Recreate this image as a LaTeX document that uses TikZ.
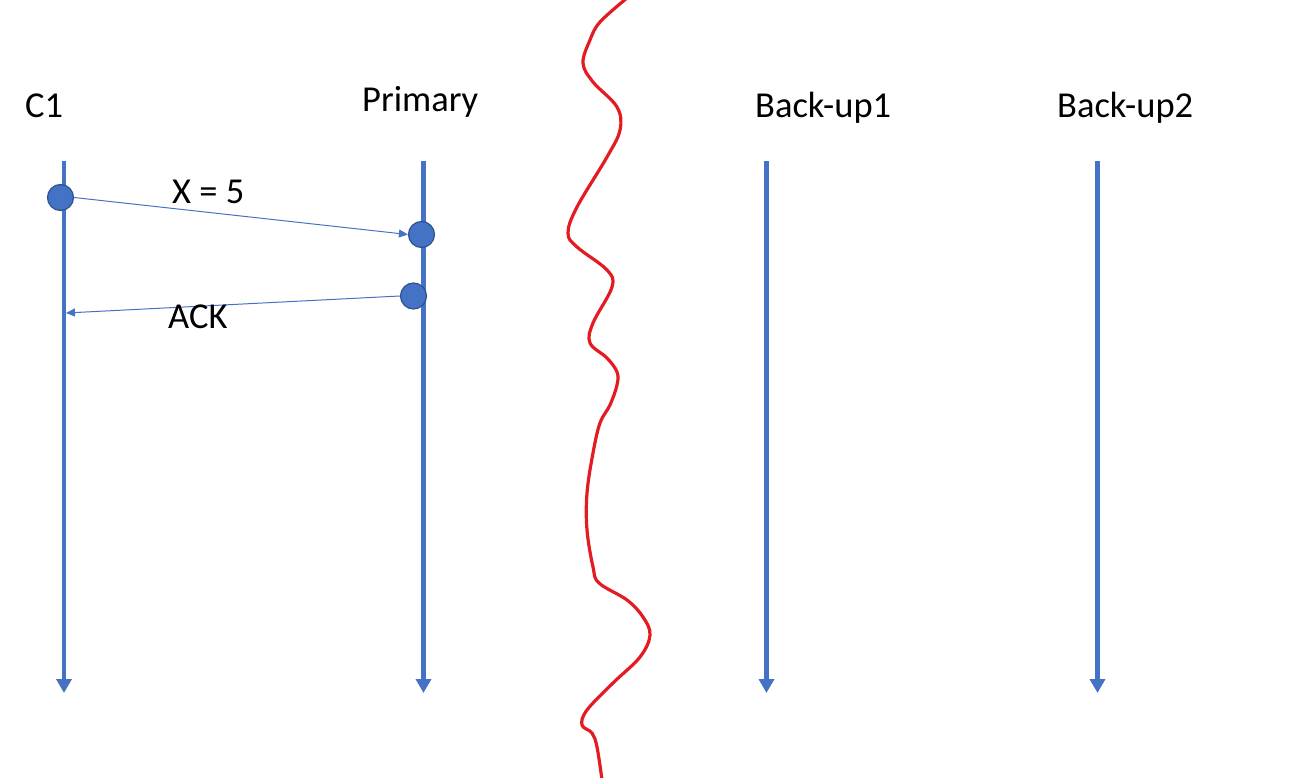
\documentclass[tikz,border=0pt]{standalone}
\usepackage{fontspec}
\setmainfont{Carlito}
\usetikzlibrary{arrows.meta}
\definecolor{tlblue}{HTML}{4472C4}
\definecolor{dotedge}{HTML}{2F528F}
\definecolor{cutred}{HTML}{E31B23}
\tikzset{
  timeline/.style={draw=tlblue, line width=4.8pt, -{Triangle[length=14pt,width=15pt]}},
  msg/.style={draw=tlblue, line width=1pt, -{Triangle[length=9pt,width=8pt]}},
  event/.style={circle, fill=tlblue, draw=dotedge, line width=1.2pt, minimum size=26pt, inner sep=0pt},
  lbl/.style={font=\fontsize{36.5}{44}\selectfont, anchor=base west, inner sep=0pt, text=black},
  cut/.style={draw=cutred, line width=3.2pt, line cap=round, line join=round}
}
\begin{document}
\begin{tikzpicture}[x=1pt, y=-1pt]
\useasboundingbox (0,0) rectangle (1296,778);
% labels
\node[lbl] (lc1) at (25,118) {C1};
\node[lbl] (lprim) at (362,112) {Primary};
\node[lbl] (lb1) at (755,118) {Back-up1};
\node[lbl] (lb2) at (1057,118) {Back-up2};
% timelines
\coordinate (c1top) at (64,161);   \coordinate (c1bot) at (64,693);
\coordinate (prtop) at (423.5,161); \coordinate (prbot) at (423.5,693);
\coordinate (b1top) at (766.5,161); \coordinate (b1bot) at (766.5,693);
\coordinate (b2top) at (1097.5,161); \coordinate (b2bot) at (1097.5,693);
\draw[timeline] (c1top) -- (c1bot);
\draw[timeline] (prtop) -- (prbot);
\draw[timeline] (b1top) -- (b1bot);
\draw[timeline] (b2top) -- (b2bot);
% events
\node[event] (e1) at (60.5,197.5) {};
\node[event] (e2) at (421.5,234.5) {};
\node[event] (e3) at (413.5,296) {};
\coordinate (ackend) at (66,313);
% messages
\draw[msg] (e1.east) -- (e2.west);
\draw[msg] (e3.west) -- (ackend);
\node[lbl] (lx) at (172,204) {X = 5};
\node[lbl] (lack) at (168,328) {ACK};
% red cut line
\draw[cut] plot[smooth, tension=0.6] coordinates {
 (627,-2) (600,22) (590,40) (583,63) (593,82) (617,107) (620,130) (607,157)
 (577,207) (568,233) (577,247) (607,270) (612,287) (593,323) (590,343)
 (607,358) (617,372) (617,385) (610,405) (600,423) (593,453) (587,493)
 (587,530) (593,567) (599,583) (627,600) (643,617) (650,635) (640,657)
 (613,683) (587,710) (582,725) (592,733) (597,747) (602,780)};
\end{tikzpicture}
\end{document}
